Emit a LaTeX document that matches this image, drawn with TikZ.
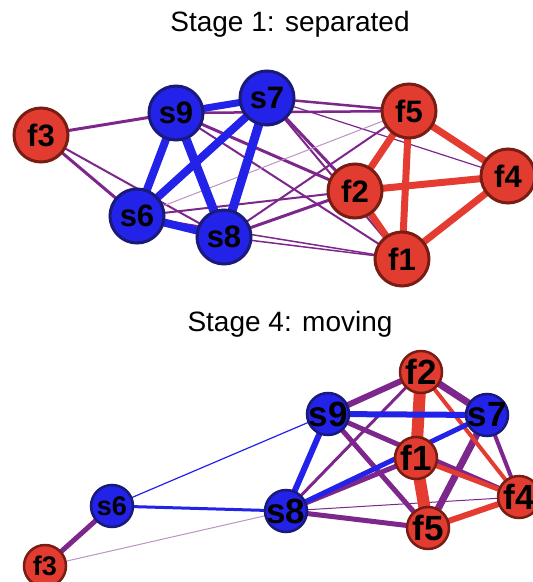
\documentclass[tikz,border=0pt]{standalone}
\usepackage{fontspec}
\setmainfont{Liberation Sans}
\pgfdeclarelayer{bg}
\pgfsetlayers{bg,main}
\definecolor{nblue}{RGB}{34,34,232}
\definecolor{nblueb}{RGB}{26,26,120}
\definecolor{nred}{RGB}{226,60,48}
\definecolor{nredb}{RGB}{120,28,20}
\definecolor{epur}{RGB}{125,38,140}
\definecolor{eblue}{RGB}{34,34,232}
\definecolor{ered}{RGB}{228,60,48}
\tikzset{
  tnode/.style={circle, minimum size=54bp, inner sep=0pt, line width=3bp,
    font=\fontsize{31bp}{31bp}\selectfont\bfseries},
  bnode/.style={circle, minimum size=42bp, inner sep=0pt, line width=2.5bp,
    font=\fontsize{35bp}{35bp}\selectfont\bfseries},
  smallfont/.style={font=\fontsize{27bp}{27bp}\selectfont\bfseries},
  sn/.style={fill=nblue, draw=nblueb},
  fn/.style={fill=nred, draw=nredb},
  be/.style={draw=eblue, line width=#1},
  re/.style={draw=ered, line width=#1},
  pe/.style={draw=epur, line width=#1},
  lpe/.style={draw=epur!50, line width=#1},
  ttl/.style={font=\fontsize{28bp}{28bp}\selectfont, anchor=base, inner sep=0pt}
}
\newcommand{\lb}[1]{\makebox[0pt]{#1}}
\begin{document}
\begin{tikzpicture}[x=1bp,y=-1bp]
\useasboundingbox (0,0) rectangle (533,582);
\node[ttl] (title1) at (290,32) {Stage 1: separated};
\node[ttl] (title4) at (290,331) {Stage 4: moving};
% ---------- top graph nodes
\node[tnode,fn] (tf3) at (41,135) {\lb{f3}};
\node[tnode,sn] (ts9) at (176,113) {\lb{s9}};
\node[tnode,sn] (ts7) at (267,98) {\lb{s7}};
\node[tnode,sn] (ts6) at (137,216) {\lb{s6}};
\node[tnode,sn] (ts8) at (224,237) {\lb{s8}};
\node[tnode,fn] (tf5) at (409,111) {\lb{f5}};
\node[tnode,fn] (tf2) at (355,191) {\lb{f2}};
\node[tnode,fn] (tf4) at (508,176) {\lb{f4}};
\node[tnode,fn] (tf1) at (402,259) {\lb{f1}};
% ---------- bottom graph nodes
\node[bnode,fn] (bf2) at (421,372) {\lb{f2}};
\node[bnode,sn] (bs9) at (328,414) {\lb{s9}};
\node[bnode,sn] (bs7) at (487,415) {\lb{s7}};
\node[bnode,fn] (bf1) at (416,458) {\lb{f1}};
\node[bnode,fn] (bf4) at (519,497) {\lb{f4}};
\node[bnode,sn] (bs8) at (286,511) {\lb{s8}};
\node[bnode,fn] (bf5) at (428,528) {\lb{f5}};
\node[bnode,sn,smallfont] (bs6) at (112,506) {\lb{s6}};
\node[bnode,fn,smallfont] (bf3) at (45,566) {\lb{f3}};
\begin{pgfonlayer}{bg}
% top: purple
\draw[pe=3bp] (tf3.center) -- (ts9.center);
\draw[pe=3bp] (tf3.center) -- (ts6.center);
\draw[pe=2bp] (tf3.center) -- (ts8.center);
\draw[pe=2.5bp] (ts9.center) -- (tf5.center);
\draw[pe=2.5bp] (ts7.center) -- (tf5.center);
\draw[pe=1.2bp] (ts7.center) -- (tf4.center);
\draw[pe=3bp] (ts7.center) -- (tf2.center);
\draw[pe=2bp] (ts7.center) -- (tf1.center);
\draw[pe=3bp] (ts9.center) -- (tf2.center);
\draw[pe=2bp] (ts9.center) -- (tf1.center);
\draw[lpe=1bp] (ts6.center) -- (tf5.center);
\draw[pe=2bp] (ts6.center) -- (tf2.center);
\draw[pe=1.5bp] (ts6.center) -- (tf1.center);
\draw[pe=2bp] (ts8.center) -- (tf5.center);
\draw[pe=3bp] (ts8.center) -- (tf2.center);
\draw[pe=1.5bp] (ts8.center) -- (tf1.center);
% top: blue
\draw[be=7bp] (ts9.center) -- (ts7.center);
\draw[be=8bp] (ts9.center) -- (ts6.center);
\draw[be=9bp] (ts9.center) -- (ts8.center);
\draw[be=8bp] (ts7.center) -- (ts6.center);
\draw[be=9bp] (ts7.center) -- (ts8.center);
\draw[be=8bp] (ts6.center) -- (ts8.center);
% top: red
\draw[re=7bp] (tf5.center) -- (tf2.center);
\draw[re=7bp] (tf5.center) -- (tf1.center);
\draw[re=7bp] (tf5.center) -- (tf4.center);
\draw[re=7bp] (tf2.center) -- (tf4.center);
\draw[re=7bp] (tf2.center) -- (tf1.center);
\draw[re=7bp] (tf1.center) -- (tf4.center);
% bottom: thin lines
\draw[lpe=1bp] (bf3.center) -- (bs8.center);
\draw[pe=1bp] (bs8.center) -- (bf4.center);
\draw[draw=eblue, line width=1.2bp] (bs6.center) -- (bs9.center);
% bottom: purple
\draw[pe=5bp] (bf3.center) -- (bs6.center);
\draw[pe=6bp] (bs9.center) -- (bf2.center);
\draw[pe=7bp] (bf2.center) -- (bs7.center);
\draw[pe=3bp] (bf2.center) -- (bs8.center);
\draw[pe=5bp] (bs9.center) -- (bf4.center);
\draw[pe=5bp] (bs9.center) -- (bf5.center);
\draw[pe=7bp] (bs7.center) -- (bf5.center);
\draw[pe=4bp] (bs7.center) -- (bf4.center);
\draw[pe=5bp] (bs8.center) -- (bf1.center);
\draw[pe=5bp] (bs8.center) -- (bf5.center);
% bottom: red
\draw[re=4bp] (bf2.center) -- (bf4.center);
\draw[re=5bp] (bf1.center) -- (bf4.center);
\draw[re=6bp] (bf5.center) -- (bf4.center);
\draw[re=12bp] (bf2.center) -- (bf1.center);
\draw[re=12bp] (bf1.center) -- (bf5.center);
% bottom: blue
\draw[be=6bp] (bs9.center) -- (bs7.center);
\draw[be=6bp] (bs9.center) -- (bs8.center);
\draw[be=5bp] (bs7.center) -- (bs8.center);
\draw[be=3bp] (bs6.center) -- (bs8.center);
\end{pgfonlayer}
\end{tikzpicture}
\end{document}
